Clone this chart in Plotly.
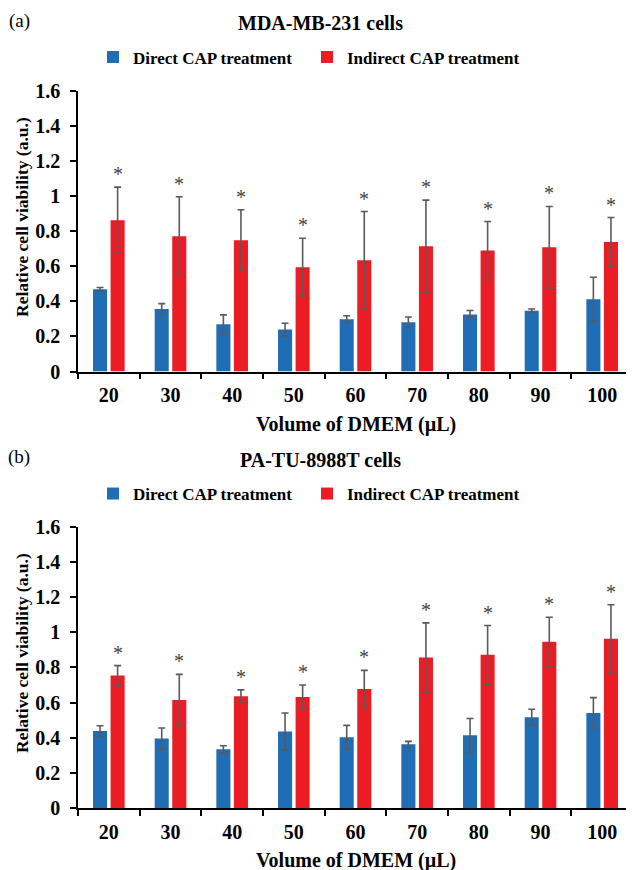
import plotly.graph_objects as go

# ---------------- data ----------------
volumes = ["20", "30", "40", "50", "60", "70", "80", "90", "100"]

mda_direct = [0.469, 0.357, 0.270, 0.239, 0.298, 0.281, 0.325, 0.346, 0.412]
mda_direct_err = [0.010, 0.030, 0.053, 0.036, 0.020, 0.030, 0.023, 0.010, 0.125]
mda_indirect = [0.862, 0.771, 0.748, 0.594, 0.634, 0.714, 0.689, 0.708, 0.737]
mda_indirect_err = [0.188, 0.224, 0.173, 0.165, 0.277, 0.262, 0.165, 0.232, 0.140]

pa_direct = [0.438, 0.395, 0.334, 0.435, 0.402, 0.362, 0.414, 0.516, 0.541]
pa_direct_err = [0.030, 0.060, 0.020, 0.105, 0.068, 0.017, 0.095, 0.046, 0.087]
pa_indirect = [0.753, 0.615, 0.636, 0.632, 0.677, 0.856, 0.871, 0.945, 0.962]
pa_indirect_err = [0.057, 0.145, 0.036, 0.068, 0.106, 0.197, 0.167, 0.140, 0.194]

series_names = ["Direct CAP treatment", "Indirect CAP treatment"]
panel_titles = ["MDA-MB-231 cells", "PA-TU-8988T cells"]
panel_labels = ["(a)", "(b)"]
x_title = "Volume of DMEM (µL)"
y_title = "Relative cell viability (a.u.)"

# ---------------- style / layout ----------------
OFF = 8                      # page body margin in the browser
W, H = 634 - OFF, 870 - OFF  # figure size so it fills the window
L, R, T, B = 70, 1, 82, 62
PW, PH = W - L - R, H - T - B
BLUE = "#1f6db5"
RED = "#ec1c24"
ERR = "#5a5a5a"
STAR = "#444444"
FONT = "Liberation Serif, Times New Roman, serif"
BARGAP = 0.43
GROUPGAP = 0.2


def px_x(xp):
    """screen pixel x -> paper x"""
    return (xp - OFF - L) / PW


def px_y(yp):
    """screen pixel y -> paper y"""
    return (H - B - (yp - OFF)) / PH


fig = go.Figure()

panels = [
    ("x", "y", "legend", mda_direct, mda_direct_err, mda_indirect, mda_indirect_err),
    ("x2", "y2", "legend2", pa_direct, pa_direct_err, pa_indirect, pa_indirect_err),
]

for xa, ya, lg, d, de, ind, ie in panels:
    fig.add_trace(go.Bar(
        name=series_names[0], x=volumes, y=d,
        error_y=dict(type="data", array=de, color=ERR, thickness=1.6, width=3.5),
        marker=dict(color=BLUE, line=dict(width=0)),
        xaxis=xa, yaxis=ya, legend=lg,
    ))
    fig.add_trace(go.Bar(
        name=series_names[1], x=volumes, y=ind,
        error_y=dict(type="data", array=ie, color=ERR, thickness=1.6, width=3.5),
        marker=dict(color=RED, line=dict(width=0)),
        xaxis=xa, yaxis=ya, legend=lg,
    ))

# asterisks above the indirect bars (x given as category index)
cat_w = PW / len(volumes)
star_shift = (1 - BARGAP) * cat_w / 4
annotations = []
for (xa, ya, lg, d, de, ind, ie) in panels:
    for i, (val, e) in enumerate(zip(ind, ie)):
        annotations.append(dict(
            x=i, y=val + e, xref=xa, yref=ya, text="*", showarrow=False,
            xshift=star_shift, yshift=13, yanchor="middle",
            font=dict(family=FONT, size=20, color=STAR),
        ))

titlefont = dict(family=FONT, size=20, color="black", weight="bold")
ytitlefont = dict(family=FONT, size=17.5, color="black", weight="bold")

# panel titles, labels and axis titles
for title, lab, ty, ly, xty, yty in zip(panel_titles, panel_labels,
                                        [23, 460], [21, 457], [424, 860], [217, 653]):
    annotations.append(dict(
        x=px_x(320), y=px_y(ty), xref="paper", yref="paper", text=title,
        showarrow=False, xanchor="center", yanchor="middle", font=titlefont,
    ))
    annotations.append(dict(
        x=px_x(19), y=px_y(ly), xref="paper", yref="paper", text=lab,
        showarrow=False, xanchor="center", yanchor="middle",
        font=dict(family=FONT, size=19, color="black"),
    ))
    annotations.append(dict(
        x=0.5, y=px_y(xty), xref="paper", yref="paper", text=x_title,
        showarrow=False, xanchor="center", yanchor="middle", font=titlefont,
    ))
    annotations.append(dict(
        x=px_x(22), y=px_y(yty), xref="paper", yref="paper", text=y_title,
        textangle=-90, showarrow=False, xanchor="center", yanchor="middle",
        font=ytitlefont,
    ))

tickfont = dict(family=FONT, size=20, color="black", weight="bold")

xaxis_common = dict(
    type="category", categoryorder="array", categoryarray=volumes,
    range=[-0.5, len(volumes) - 0.5],
    showline=True, linecolor="black", linewidth=1.5,
    ticks="outside", tickson="boundaries", ticklen=6, tickwidth=1.5, tickcolor="black",
    tickfont=tickfont, tickangle=0, showgrid=False, zeroline=False, automargin=False,
    ticklabelstandoff=5,
)
yaxis_common = dict(
    range=[0, 1.6], tick0=0, dtick=0.2, showline=True, linecolor="black", linewidth=1.5,
    ticks="outside", ticklen=6, tickwidth=1.5, tickcolor="black",
    tickfont=tickfont, showgrid=False, zeroline=False, automargin=False,
    ticklabelstandoff=6,
)

legend_common = dict(
    orientation="h", xref="container", yref="container", xanchor="left", yanchor="middle",
    font=dict(family=FONT, size=17, color="black", weight="bold"),
    bgcolor="rgba(0,0,0,0)", entrywidth=169, entrywidthmode="pixels",
    itemclick=False, itemdoubleclick=False,
)

fig.update_layout(
    width=W, height=H, margin=dict(l=L, r=R, t=T, b=B, autoexpand=False),
    paper_bgcolor="white", plot_bgcolor="white",
    barmode="group", bargap=BARGAP, bargroupgap=GROUPGAP,
    xaxis=dict(domain=[0, 1], anchor="y", **xaxis_common),
    yaxis=dict(domain=[px_y(371.6), px_y(90.5)], anchor="x", **yaxis_common),
    xaxis2=dict(domain=[0, 1], anchor="y2", **xaxis_common),
    yaxis2=dict(domain=[px_y(808), px_y(526.7)], anchor="x2", **yaxis_common),
    legend=dict(x=(93 - OFF) / W, y=1 - (57.5 - OFF) / H, **legend_common),
    legend2=dict(x=(93 - OFF) / W, y=1 - (494 - OFF) / H, **legend_common),
    annotations=annotations,
    showlegend=True,
)

fig.write_html("out.html")
